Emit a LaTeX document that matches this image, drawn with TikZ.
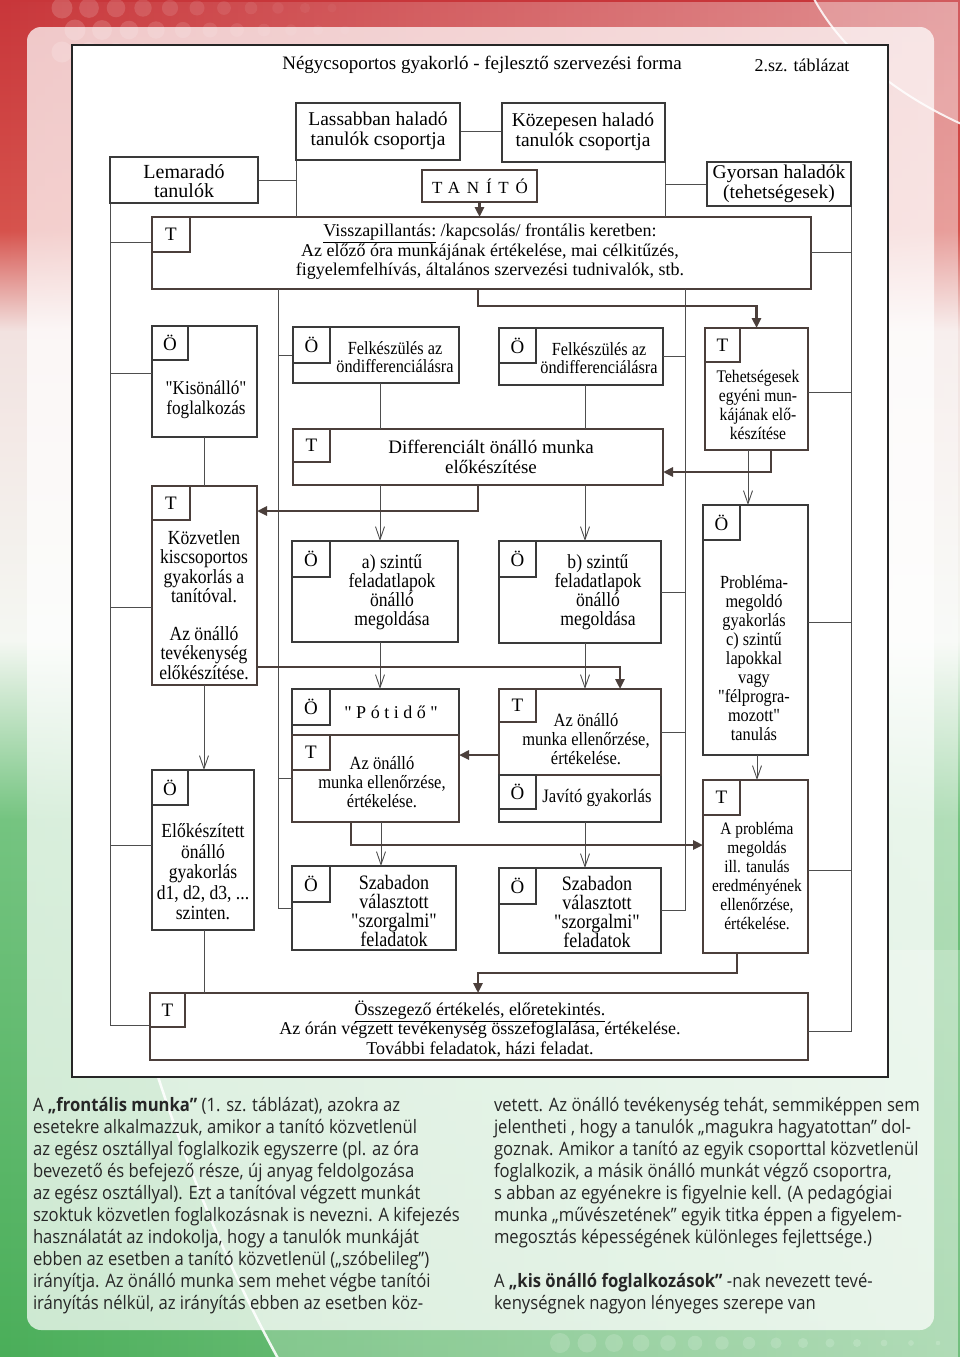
\documentclass[tikz,border=0pt]{standalone}
\usepackage{fontspec}
\setmainfont{Liberation Serif}
\newfontfamily\fN{Liberation Serif}
\newfontfamily\fC{Liberation Serif}[FakeStretch=0.88]
\newfontfamily\fS{Open Sans}[FakeStretch=0.9]
\usetikzlibrary{arrows.meta,fadings}
\newcommand\fs[2]{\fontsize{#1}{#2}\selectfont}
\definecolor{lc}{HTML}{4E4E4E}
\definecolor{kc}{HTML}{4B3F3B}
\definecolor{bc}{HTML}{3A3A3A}
\definecolor{tx}{HTML}{262626}
\definecolor{rA}{HTML}{C8363A}
\definecolor{rB}{HTML}{D6524C}
\definecolor{wA}{HTML}{F2E2E0}
\definecolor{wB}{HTML}{F4F7F2}
\definecolor{gA}{HTML}{74C480}
\definecolor{gB}{HTML}{4AAE59}
\pgfdeclareverticalshading{flagsh}{100bp}{color(0bp)=(gB); color(25bp)=(gB); color(44.8bp)=(gA); color(51.4bp)=(wB); color(62.8bp)=(wA); color(66.5bp)=(rB); color(75bp)=(rA); color(100bp)=(rA)}
\tikzfading[name=fadeR, left color=transparent!100, right color=transparent!55]
\newcommand\bx[6]{\node[#6, anchor=north west, minimum width={#4-#2}, minimum height={#5-#3}] (#1) at (#2,#3) {};}
\newcommand\sbx[5]{\node[#5, sublbl, anchor=north west, minimum width=#2, minimum height=#3] (#1-s) at (#1.north west) {#4};}
\begin{document}
\begin{tikzpicture}[x=1pt,y=-1pt,
  thinbox/.style={draw=bc, line width=1.1pt, fill=white, inner sep=0pt, outer sep=0pt},
  thickbox/.style={draw=kc, line width=2.6pt, fill=white, inner sep=0pt, outer sep=0pt},
  sublbl/.style={font=\fN\fs{19}{20}, text=black},
  txt/.style={align=center, inner sep=0pt, outer sep=0pt, text=black},
  lane/.style={draw=lc, line width=0.9pt},
  tarr/.style={lane, -{Straight Barb[length=13pt,width=9pt]}},
  karr/.style={draw=kc, line width=2.6pt, -{Triangle[length=10pt,width=9pt]}},
  body/.style={align=left, inner sep=0pt, outer sep=0pt, text=tx, font=\fS\fs{18.5}{22}}]
\useasboundingbox (0,0) rectangle (960,1357);
% background
\begin{scope}
\clip (0,0) rectangle (960,1357);
\shade[shading=flagsh] (0,0) rectangle (960,1357);
\fill[white, path fading=fadeR] (0,0) rectangle (960,1357);
% decorative dots
\foreach \i in {0,...,10} {
  \foreach \j in {0,1,2} {
    \fill[white, opacity={0.16-0.012*\i}] ({62+27*\i+13*mod(\j,2)},{8+22*\j}) circle[radius={10.5-0.6*\i}];
  }
}
\foreach \i in {0,...,14} {
  \fill[white, opacity=0.16] ({560+27*\i},1343) circle[radius={max(2,10-0.55*\i)}];
}
% swooshes
\fill[white, opacity=0.18] (812,-5) .. controls (832,35) and (880,90) .. (975,130) -- (975,-5) -- cycle;
\draw[white, line width=2pt, opacity=0.85] (812,-5) .. controls (832,35) and (880,90) .. (975,130);
\fill[white, opacity=0.22] (120,950) .. controls (175,1150) and (228,1270) .. (290,1380) -- (975,1380) -- (975,950) -- cycle;
\draw[white, line width=2.5pt, opacity=0.9] (120,950) .. controls (175,1150) and (228,1270) .. (290,1380);
\end{scope}
\fill[white, opacity=0.72, rounded corners=14pt] (27,27) rectangle (934,1330);
% frame
\draw[fill=white, draw=black!85, line width=1.3pt] (72,45) rectangle (888,1077);
\node[txt, font=\fN\fs{19}{20}] (title) at (482,65) {Négycsoportos gyakorló - fejlesztő szervezési forma};
\node[txt, font=\fN\fs{18}{20}] (tabla) at (802,65) {2.sz. táblázat};
% helper coordinates
\foreach \v in {204,351,380,381,478,585,620,737,748,757,771} {\coordinate (X\v) at (\v,0);}
\foreach \v in {180,242,252,306,373,392,472,511,607,622,667,755,845,870,973,1025,1031} {\coordinate (Y\v) at (0,\v);}
% boxes
\bx{lass}{296}{103}{460}{160}{thinbox}
\bx{koz}{502}{103}{665}{162}{thinbox}
\bx{lem}{110}{157}{258}{203}{thinbox}
\bx{tan}{422}{170}{537}{202}{thickbox}
\bx{gyo}{707}{162}{851}{206}{thinbox}
\bx{vis}{152}{217}{811}{289}{thickbox}
\bx{kis}{152}{326}{257}{437}{thinbox}
\bx{fa}{293}{327}{459}{383}{thinbox}
\bx{fb}{499}{328}{663}{385}{thinbox}
\bx{teh}{705}{328}{808}{450}{thickbox}
\bx{dif}{293}{429}{663}{485}{thickbox}
\bx{kozv}{152}{486}{257}{685}{thickbox}
\bx{a}{292}{541}{458}{642}{thinbox}
\bx{b}{499}{541}{661}{643}{thinbox}
\bx{prob}{703}{505}{808}{755}{thinbox}
\bx{pot}{292}{689}{459}{735}{thinbox}
\bx{jav}{499}{775}{661}{822}{thinbox}
\bx{ta}{292}{735}{459}{822}{thickbox}
\bx{tb}{499}{689}{661}{775}{thickbox}
\bx{elo}{152}{770}{254}{930}{thinbox}
\bx{sza}{292}{866}{456}{950}{thinbox}
\bx{szb}{499}{868}{661}{953}{thinbox}
\bx{ap}{703}{780}{808}{953}{thickbox}
\bx{ossz}{150}{993}{808}{1060}{thickbox}
% lanes
\draw[lane] (lem.south west) |- (ossz.west |- Y1025);
\draw[lane] (lem.south west |- Y242) -- (vis.west |- Y242);
\draw[lane] (lem.south west |- Y373) -- (kis.west |- Y373);
\draw[lane] (lem.south west |- Y607) -- (kozv.west |- Y607);
\draw[lane] (lem.south west |- Y845) -- (elo.west |- Y845);
\draw[lane] (lem.east |- Y180) -- (lass.west |- Y180);
\draw[lane] (lass.south west) -- (lass.south west |- vis.north);
\draw[lane] (lass.east) -- (koz.west |- lass.east);
\draw[lane] (koz.south east) -- (koz.south east |- vis.north);
\draw[lane] (gyo.west) -- (gyo.west -| koz.east);
\coordinate (la) at (278,289);
\draw[lane] (la) |- (sza.west);
\draw[lane] (la |- fa.west) -- (fa.west);
\draw[lane] (la |- ta.west) -- (ta.west);
\coordinate (kb) at (685,289);
\draw[lane] (kb) |- (szb.east);
\draw[lane] (kb |- fb.east) -- (fb.east);
\draw[lane] (kb |- b.east) -- (b.east);
\draw[lane] (kb |- tb.east) -- (tb.east);
\draw[lane] (gyo.south east) |- (ossz.east |- Y1031);
\draw[lane] (gyo.south east |- Y252) -- (vis.east |- Y252);
\draw[lane] (gyo.south east |- Y392) -- (teh.east |- Y392);
\draw[lane] (gyo.south east |- Y622) -- (prob.east |- Y622);
\draw[lane] (gyo.south east |- Y870) -- (ap.east |- Y870);
% redraw top boxes over lanes
\bx{lass}{296}{103}{460}{160}{thinbox}
\bx{koz}{502}{103}{665}{162}{thinbox}
\bx{lem}{110}{157}{258}{203}{thinbox}
\bx{gyo}{707}{162}{851}{206}{thinbox}
% sub boxes
\sbx{vis}{38}{35}{T}{thickbox}
\sbx{kis}{36}{34}{Ö}{thinbox}
\sbx{fa}{37}{36}{Ö}{thinbox}
\sbx{fb}{37}{35}{Ö}{thinbox}
\sbx{teh}{35}{34}{T}{thickbox}
\sbx{dif}{37}{33}{T}{thickbox}
\sbx{kozv}{38}{34}{T}{thickbox}
\sbx{a}{38}{36}{Ö}{thinbox}
\sbx{b}{37}{36}{Ö}{thinbox}
\sbx{prob}{37}{35}{Ö}{thinbox}
\sbx{pot}{38}{36}{Ö}{thinbox}
\sbx{jav}{37}{34}{Ö}{thinbox}
\sbx{ta}{38}{35}{T}{thickbox}
\sbx{tb}{37}{33}{T}{thickbox}
\sbx{elo}{36}{35}{Ö}{thinbox}
\sbx{sza}{38}{36}{Ö}{thinbox}
\sbx{szb}{37}{36}{Ö}{thinbox}
\sbx{ap}{37}{35}{T}{thickbox}
\sbx{ossz}{35}{34}{T}{thickbox}
% texts
\node[txt, font=\fN\fs{19.5}{20}] (lass-t) at (378,131) {Lassabban haladó\\tanulók csoportja};
\node[txt, font=\fN\fs{19.5}{20}] (koz-t) at (583,132) {Közepesen haladó\\tanulók csoportja};
\node[txt, font=\fN\fs{20}{19}] (lem-t) at (184,181) {Lemaradó\\tanulók};
\node[txt, font=\fN\fs{17}{20}\addfontfeature{LetterSpace=40}] (tan-t) at (480,186) {TANÍTÓ};
\node[txt, font=\fN\fs{19.5}{20}] (gyo-t) at (779,184) {Gyorsan haladók\\(tehetségesek)};
\node[txt, font=\fN\fs{18}{19.5}] (vis-t) at (490,252) {\underline{Visszapillantás:} /kapcsolás/ frontális keretben:\\Az előző óra munkájának értékelése, mai célkitűzés,\\figyelemfelhívás, általános szervezési tudnivalók, stb.};
\node[txt, font=\fC\fs{19.5}{20}] (kis-t) at (206,400) {"Kisönálló"\\foglalkozás};
\node[txt, font=\fC\fs{18.5}{18}] (fa-t) at (395,357) {Felkészülés az\\öndifferenciálásra};
\node[txt, font=\fC\fs{18.5}{18}] (fb-t) at (599,358) {Felkészülés az\\öndifferenciálásra};
\node[txt, font=\fC\fs{17.7}{19}] (teh-t) at (758,405) {Tehetségesek\\egyéni mun-\\kájának elő-\\készítése};
\node[txt, font=\fN\fs{19}{20}] (dif-t) at (491,457) {Differenciált önálló munka\\előkészítése};
\node[txt, font=\fC\fs{20}{19.5}] (kozv-t) at (204,605) {Közvetlen\\kiscsoportos\\gyakorlás a\\tanítóval.\\[18pt]Az önálló\\tevékenység\\előkészítése.};
\node[txt, font=\fC\fs{20}{19}] (a-t) at (392,592) {a) szintű\\feladatlapok\\önálló\\megoldása};
\node[txt, font=\fC\fs{20}{19}] (b-t) at (598,592) {b) szintű\\feladatlapok\\önálló\\megoldása};
\node[txt, font=\fC\fs{18.5}{19}] (prob-t) at (754,658) {Probléma-\\megoldó\\gyakorlás\\c) szintű\\lapokkal\\vagy\\"félprogra-\\mozott"\\tanulás};
\node[txt, font=\fN\fs{18}{20}\addfontfeature{LetterSpace=25}] (pot-t) at (391,712) {"Pótidő"};
\node[txt, font=\fC\fs{18.75}{19}] (ta-t) at (382,782) {Az önálló\\munka ellenőrzése,\\értékelése.};
\node[txt, font=\fC\fs{18.75}{19}] (tb-t) at (586,739) {Az önálló\\munka ellenőrzése,\\értékelése.};
\node[txt, font=\fC\fs{19}{20}] (jav-t) at (597,798) {Javító gyakorlás};
\node[txt, font=\fC\fs{20}{20.5}] (elo-t) at (203,872) {Előkészített\\önálló\\gyakorlás\\d1, d2, d3, ...\\szinten.};
\node[txt, font=\fC\fs{20.5}{19}] (sza-t) at (394,911) {Szabadon\\választott\\"szorgalmi"\\feladatok};
\node[txt, font=\fC\fs{20.5}{19}] (szb-t) at (597,912) {Szabadon\\választott\\"szorgalmi"\\feladatok};
\node[txt, font=\fC\fs{17.5}{19}] (ap-t) at (757,876) {A probléma\\megoldás\\ill. tanulás\\eredményének\\ellenőrzése,\\értékelése.};
\node[txt, font=\fN\fs{18}{19.5}] (ossz-t) at (480,1029) {\underline{Összegező értékelés, előretekintés.}\\Az órán végzett tevékenység összefoglalása, értékelése.\\További feladatok, házi feladat.};
% thin connectors
\draw[lane] (kis.south -| X204) -- (kozv.north -| X204);
\draw[tarr] (kozv.south -| X204) -- (elo.north -| X204);
\draw[lane] (elo.south -| X204) -- (ossz.north -| X204);
\draw[lane] (fa.south -| X380) -- (dif.north -| X380);
\draw[lane] (fb.south -| X585) -- (dif.north -| X585);
\draw[tarr] (dif.south -| X380) -- (a.north -| X380);
\draw[tarr] (dif.south -| X585) -- (b.north -| X585);
\draw[tarr] (a.south -| X380) -- (pot.north -| X380);
\draw[tarr] (b.south -| X585) -- (tb.north -| X585);
\draw[tarr] (ta.south -| X381) -- (sza.north -| X381);
\draw[tarr] (jav.south -| X585) -- (szb.north -| X585);
\draw[tarr] (teh.south -| X748) -- (prob.north -| X748);
\draw[tarr] (prob.south -| X757) -- (ap.north -| X757);
% thick connectors
\draw[karr] (tan.south) -- (tan.south |- vis.north);
\draw[karr] (vis.south -| X478) |- (Y306 -| teh.north) -- (teh.north);
\draw[karr] (teh.south -| X771) |- (dif.east |- Y472);
\draw[karr] (dif.south -| X478) |- (kozv.east |- Y511);
\draw[karr] (kozv.east |- Y667) -| (tb.north -| X620);
\draw[karr] (tb.west |- Y755) -- (ta.east |- Y755);
\draw[karr] (ta.south -| X351) |- (ap.west |- Y845);
\draw[karr] (ap.south -| X737) |- (Y973 -| X478) -- (ossz.north -| X478);
% body text
\node[body, anchor=north west] (colA) at (33,1097) {A \textbf{„frontális munka”} (1. sz. táblázat), azokra az\\
esetekre alkalmazzuk, amikor a tanító közvetlenül\\
az egész osztállyal foglalkozik egyszerre (pl. az óra\\
bevezető és befejező része, új anyag feldolgozása\\
az egész osztállyal). Ezt a tanítóval végzett munkát\\
szoktuk közvetlen foglalkozásnak is nevezni. A kifejezés\\
használatát az indokolja, hogy a tanulók munkáját\\
ebben az esetben a tanító közvetlenül („szóbelileg”)\\
irányítja. Az önálló munka sem mehet végbe tanítói\\
irányítás nélkül, az irányítás ebben az esetben köz-};
\node[body, anchor=north west] (colB) at (494,1097) {vetett. Az önálló tevékenység tehát, semmiképpen sem\\
jelentheti , hogy a tanulók „magukra hagyatottan” dol-\\
goznak. Amikor a tanító az egyik csoporttal közvetlenül\\
foglalkozik, a másik önálló munkát végző csoportra,\\
s abban az egyénekre is figyelnie kell. (A pedagógiai\\
munka „művészetének” egyik titka éppen a figyelem-\\
megosztás képességének különleges fejlettsége.)\\[22pt]
A \textbf{„kis önálló foglalkozások”} -nak nevezett tevé-\\
kenységnek nagyon lényeges szerepe van};
\end{tikzpicture}
\end{document}
